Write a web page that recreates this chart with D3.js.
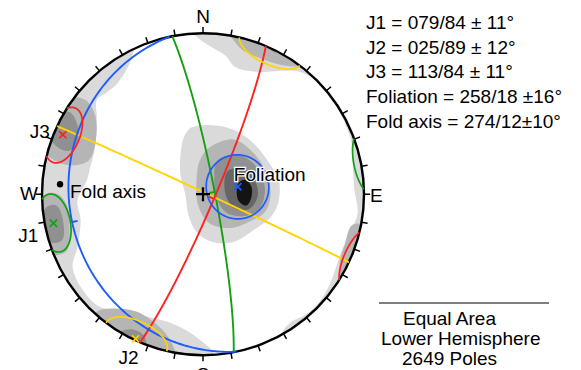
<!DOCTYPE html>
<html>
<head>
<meta charset="utf-8">
<script src="https://cdn.jsdelivr.net/npm/d3@7"></script>
<style>
  html, body { margin: 0; padding: 0; background: #fff; }
  text { font-family: "Liberation Sans", Arial, Helvetica, sans-serif; font-size: 19px; fill: #000; }
</style>
</head>
<body>
<svg id="chart" width="581" height="370"></svg>
<script>
// ---- Orientation data (dip direction / dip, cone half-angle in degrees) ----
const setNames      = ["J1", "J2", "J3", "Foliation"];
const dipDirections = [79, 25, 113, 258];
const dips          = [84, 89, 84, 18];
const coneAngles    = [11, 12, 11, 16];

// Fold axis as a line (trend / plunge) with its cone
const foldTrend  = 274;
const foldPlunge = 12;
const foldCone   = 10;

const poleCount = 2649;
const projectionName = "Equal Area";
const hemisphereName = "Lower Hemisphere";
const cardinalLabels = ["N", "E", "S", "W"];

// Pole-density contour rings, in net coordinates (east, north; 1 = primitive radius).
// Each entry: [contour level, ring]
const densityRings = [
  // level 1
  [1, [[-0.42,1.05],[-0.45,0.83],[-0.53,0.69],[-0.60,0.63],[-0.66,0.585],[-0.66,0.48],[-0.67,0.29],[-0.70,0.17],[-0.72,0.09],[-0.78,-0.04],[-0.76,-0.16],[-0.78,-0.33],[-0.81,-0.45],[-0.75,-0.59],[-0.64,-0.70],[-0.50,-0.72],[-0.35,-0.76],[-0.20,-0.80],[-0.08,-0.86],[0.00,-0.92],[0.06,-0.98],[0.07,-1.06],[-0.64,-1.09],[-1.14,-0.53],[-1.17,0.27],[-0.89,0.96]]],
  [1, [[-0.09,1.05],[-0.03,0.97],[0.06,0.91],[0.14,0.86],[0.20,0.79],[0.335,0.76],[0.60,0.76],[0.745,0.67],[0.83,0.54],[0.89,0.42],[0.925,0.31],[0.93,0.18],[0.94,0.03],[0.96,-0.12],[0.91,-0.24],[0.85,-0.38],[0.80,-0.53],[0.74,-0.645],[0.65,-0.74],[0.54,-0.80],[0.49,-0.87],[0.54,-0.97],[1.16,-0.60],[1.22,0.03],[0.91,1.02],[0.35,1.18]]],
  [1, [[-0.08,0.41],[0.04,0.43],[0.19,0.40],[0.31,0.32],[0.40,0.21],[0.47,0.09],[0.47,-0.04],[0.43,-0.13],[0.32,-0.22],[0.18,-0.30],[0.04,-0.29],[-0.04,-0.235],[-0.09,-0.13],[-0.11,0.00],[-0.14,0.12],[-0.14,0.24],[-0.12,0.35]]],
  // level 2
  [2, [[-0.91,0.55],[-0.84,0.60],[-0.73,0.585],[-0.67,0.49],[-0.665,0.34],[-0.71,0.21],[-0.83,0.18],[-0.94,0.22],[-1.04,0.34],[-1.01,0.55]]],
  [2, [[-0.98,0.00],[-0.90,0.00],[-0.845,-0.07],[-0.83,-0.19],[-0.845,-0.35],[-0.92,-0.38],[-1.04,-0.35],[-1.07,-0.13]]],
  [2, [[-0.66,-0.73],[-0.56,-0.71],[-0.41,-0.73],[-0.27,-0.825],[-0.205,-0.905],[-0.17,-1.0],[-0.205,-1.09],[-0.58,-1.06],[-0.73,-0.84]]],
  [2, [[0.12,1.02],[0.17,0.98],[0.24,0.90],[0.34,0.85],[0.50,0.80],[0.62,0.80],[0.71,0.86],[0.48,1.08],[0.14,1.11]]],
  [2, [[0.93,-0.19],[0.88,-0.315],[0.85,-0.42],[0.86,-0.53],[0.975,-0.60],[1.07,-0.22]]],
  [2, [[0.04,0.29],[0.19,0.34],[0.30,0.27],[0.385,0.15],[0.42,0.00],[0.385,-0.11],[0.29,-0.17],[0.17,-0.21],[0.04,-0.18],[-0.03,-0.07],[-0.04,0.09],[-0.02,0.21]]],
  // level 3
  [3, [[-0.91,0.50],[-0.83,0.51],[-0.78,0.43],[-0.78,0.32],[-0.83,0.27],[-0.90,0.29],[-0.98,0.40]]],
  [3, [[-0.97,-0.08],[-0.91,-0.07],[-0.87,-0.16],[-0.875,-0.285],[-0.94,-0.30],[-1.02,-0.19]]],
  [3, [[-0.52,-0.86],[-0.435,-0.84],[-0.37,-0.875],[-0.35,-0.95],[-0.39,-1.04],[-0.55,-1.0]]],
  [3, [[0.27,0.97],[0.37,0.93],[0.46,0.88],[0.51,0.96],[0.29,1.05]]],
  [3, [[0.09,0.21],[0.23,0.24],[0.34,0.16],[0.385,0.03],[0.35,-0.09],[0.26,-0.135],[0.155,-0.12],[0.09,-0.04],[0.07,0.09]]],
  // level 4
  [4, [[0.15,0.14],[0.25,0.16],[0.32,0.09],[0.34,-0.01],[0.29,-0.09],[0.20,-0.09],[0.14,0.00]]],
  // level 5
  [5, [[0.22,0.07],[0.26,0.09],[0.30,0.05],[0.30,-0.02],[0.27,-0.07],[0.22,-0.04],[0.21,0.03]]]
];

// ---- Styling ----
const setColors   = ["#13a113", "#ffd400", "#ff2020", "#1f5cff"];
const levelColors = ["#dadada", "#b5b5b5", "#909090", "#666666", "#141414"];
const legendSeparators = [" \u00b1 ", " \u00b1 ", " \u00b1 ", " \u00b1", "\u00b1"];

// ---- Geometry ----
const cx = 203, cy = 194.2, R = 161;
const rad = Math.PI / 180;
const x = d3.scaleLinear().domain([-1, 1]).range([cx - R, cx + R]);
const y = d3.scaleLinear().domain([-1, 1]).range([cy + R, cy - R]);

// direction cosines (north, east, down) of a line
function lineVec(trend, plunge) {
  const t = trend * rad, p = plunge * rad;
  return [Math.cos(p) * Math.cos(t), Math.cos(p) * Math.sin(t), Math.sin(p)];
}
// Lambert equal-area, lower hemisphere -> [east, north] in net units
function project(v, flip) {
  let [n, e, d] = v;
  if (flip === undefined) flip = d < 0;
  if (flip) { n = -n; e = -e; d = -d; }
  const f = 1 / Math.sqrt(1 + Math.max(d, 0));
  return [e * f, n * f];
}
const cross = (a, b) => [a[1]*b[2]-a[2]*b[1], a[2]*b[0]-a[0]*b[2], a[0]*b[1]-a[1]*b[0]];
const norm = a => { const l = Math.hypot(...a); return a.map(c => c / l); };

function greatCircle(dipDir, dip) {
  const s = lineVec(dipDir - 90, 0), q = lineVec(dipDir, dip);
  const pts = [];
  for (let t = 0; t <= 180; t += 1) {
    const c = Math.cos(t * rad), sn = Math.sin(t * rad);
    pts.push(project([c*s[0]+sn*q[0], c*s[1]+sn*q[1], c*s[2]+sn*q[2]]));
  }
  return pts;
}

// small circle around an axis; runs in the upper hemisphere are drawn at their antipodes
function smallCircle(trend, plunge, angle) {
  const a = lineVec(trend, plunge);
  const ref = Math.abs(a[2]) < 0.9 ? [0, 0, 1] : [1, 0, 0];
  const b = norm(cross(a, ref)), c = cross(a, b);
  const ca = Math.cos(angle * rad), sa = Math.sin(angle * rad);
  const raw = [];
  for (let t = 0; t < 360; t += 0.5) {
    const ct = Math.cos(t * rad), st = Math.sin(t * rad);
    raw.push([0,1,2].map(i => ca*a[i] + sa*(ct*b[i] + st*c[i])));
  }
  const lower = v => v[2] >= 0;
  const start = raw.findIndex((v, i) => i > 0 && lower(v) !== lower(raw[i-1]));
  if (start < 0) return [{ pts: raw.map(v => project(v)), closed: true }];
  const seq = raw.slice(start).concat(raw.slice(0, start));
  const runs = [];
  let cur = [seq[0]], curLower = lower(seq[0]);
  for (let i = 1; i <= seq.length; i++) {
    const pv = seq[i - 1], v = seq[i % seq.length];
    if (lower(v) !== lower(pv)) {
      const k = pv[2] / (pv[2] - v[2]);
      const m = [0,1,2].map(j => pv[j] + k * (v[j] - pv[j]));
      m[2] = 0;
      cur.push(m);
      runs.push({ pts: cur.map(p => project(p, !curLower)), closed: false });
      cur = [m]; curLower = lower(v);
    }
    if (i < seq.length) cur.push(v);
  }
  return runs;
}

// ---- Drawing ----
const svg = d3.select("#chart");

svg.append("defs").append("clipPath").attr("id", "net-clip")
  .append("circle").attr("cx", x(0)).attr("cy", y(0)).attr("r", x(1) - x(0));

const smooth = d3.line().x(d => x(d[0])).y(d => y(d[1])).curve(d3.curveCatmullRomClosed.alpha(0.5));
const path = d3.line().x(d => x(d[0])).y(d => y(d[1]));

// density contours
svg.append("g").attr("clip-path", "url(#net-clip)")
  .selectAll("path").data(densityRings).join("path")
  .attr("d", d => smooth(d[1]))
  .attr("fill", d => levelColors[d[0] - 1])
  .attr("stroke", "none");

// primitive and 10-degree ticks
svg.append("circle").attr("cx", x(0)).attr("cy", y(0)).attr("r", x(1) - x(0))
  .attr("fill", "none").attr("stroke", "#000").attr("stroke-width", 2.4);
svg.append("g").selectAll("line").data(d3.range(0, 360, 10)).join("line")
  .attr("x1", d => x(Math.sin(d * rad))).attr("y1", d => y(Math.cos(d * rad)))
  .attr("x2", d => x(1.038 * Math.sin(d * rad))).attr("y2", d => y(1.038 * Math.cos(d * rad)))
  .attr("stroke", "#000").attr("stroke-width", 1.5);

// great circles with dip ticks
const gcLayer = svg.append("g").attr("fill", "none").attr("stroke-width", 1.9);
setNames.forEach((name, i) => {
  gcLayer.append("path").attr("d", path(greatCircle(dipDirections[i], dips[i])))
    .attr("stroke", setColors[i]);
  const dp = project(lineVec(dipDirections[i], dips[i]));
  const dirE = -Math.sin(dipDirections[i] * rad), dirN = -Math.cos(dipDirections[i] * rad);
  gcLayer.append("line")
    .attr("x1", x(dp[0])).attr("y1", y(dp[1]))
    .attr("x2", x(dp[0] + 0.035 * dirE)).attr("y2", y(dp[1] + 0.035 * dirN))
    .attr("stroke", setColors[i]);
});

// confidence cones around the poles
const coneLayer = svg.append("g").attr("fill", "none").attr("stroke-width", 1.7);
setNames.forEach((name, i) => {
  const trend = (dipDirections[i] + 180) % 360, plunge = 90 - dips[i];
  smallCircle(trend, plunge, coneAngles[i]).forEach(seg => {
    coneLayer.append("path")
      .attr("d", seg.closed ? path(seg.pts) + "Z" : path(seg.pts))
      .attr("stroke", setColors[i]);
  });
});

// pole markers
const poles = setNames.map((name, i) => project(lineVec((dipDirections[i] + 180) % 360, 90 - dips[i])));
const mk = 3.6;
svg.append("g").attr("stroke-width", 1.7).selectAll("path").data(poles).join("path")
  .attr("d", d => `M${x(d[0])-mk},${y(d[1])-mk}L${x(d[0])+mk},${y(d[1])+mk}M${x(d[0])-mk},${y(d[1])+mk}L${x(d[0])+mk},${y(d[1])-mk}`)
  .attr("stroke", (d, i) => setColors[i]);

// fold axis
const fold = project(lineVec(foldTrend, foldPlunge));
svg.append("circle").attr("cx", x(fold[0])).attr("cy", y(fold[1])).attr("r", 3.2).attr("fill", "#000");

// centre cross
svg.append("path")
  .attr("d", `M${x(0)-7},${y(0)}H${x(0)+7}M${x(0)},${y(0)-7}V${y(0)+7}`)
  .attr("stroke", "#000").attr("stroke-width", 2.3);

// cardinal labels
const cardPos = [[0, 1, "middle", 0, -10], [1, 0, "start", 6, 8], [0, -1, "middle", 0, 26], [-1, 0, "end", -4, 6]];
svg.append("g").selectAll("text").data(cardinalLabels).join("text")
  .attr("x", (d, i) => x(cardPos[i][0]) + cardPos[i][3])
  .attr("y", (d, i) => y(cardPos[i][1]) + cardPos[i][4])
  .attr("text-anchor", (d, i) => cardPos[i][2])
  .text(d => d);

// set labels on the net
const labelOffsets = [[-15, 19, "end"], [-7, 25, "middle"], [-13, 3, "end"], [-4, -6, "start"]];
svg.append("g").selectAll("text").data(setNames).join("text")
  .attr("x", (d, i) => x(poles[i][0]) + labelOffsets[i][0])
  .attr("y", (d, i) => y(poles[i][1]) + labelOffsets[i][1])
  .attr("text-anchor", (d, i) => labelOffsets[i][2])
  .attr("stroke", (d, i) => i === 3 ? "#fff" : "none")
  .attr("stroke-width", 2.5).attr("paint-order", "stroke")
  .text(d => d);
svg.append("text").attr("x", 70).attr("y", 198).text("Fold axis");

// legend of mean orientations
const pad3 = n => String(n).padStart(3, "0");
const legendLines = setNames.map((name, i) =>
  `${name} = ${pad3(dipDirections[i])}/${dips[i]}${legendSeparators[i]}${coneAngles[i]}\u00b0`)
  .concat([`Fold axis = ${pad3(foldTrend)}/${foldPlunge}${legendSeparators[4]}${foldCone}\u00b0`]);
svg.append("g").selectAll("text").data(legendLines).join("text")
  .attr("x", 366).attr("y", (d, i) => 29 + i * 24.7).text(d => d);

// projection note
svg.append("line").attr("x1", 379).attr("x2", 549).attr("y1", 303).attr("y2", 303)
  .attr("stroke", "#000").attr("stroke-width", 1.2);
const notes = [[projectionName, 403, 325], [hemisphereName, 381, 345], [`${poleCount} Poles`, 402, 365]];
svg.append("g").selectAll("text").data(notes).join("text")
  .attr("x", d => d[1]).attr("y", d => d[2]).text(d => d[0]);
</script>
</body>
</html>
